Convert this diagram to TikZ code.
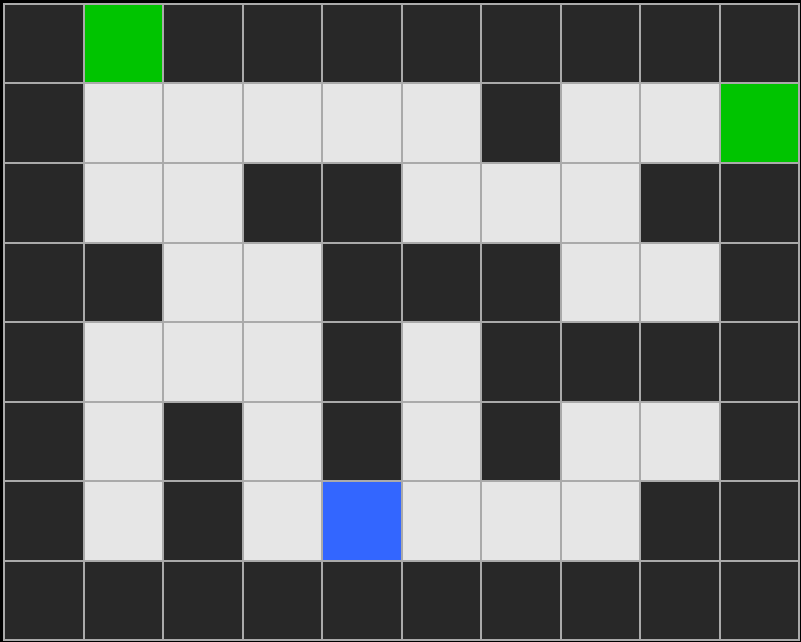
\documentclass[tikz,border=0pt]{standalone}
\definecolor{cD}{HTML}{282828}
\definecolor{cL}{HTML}{E6E6E6}
\definecolor{cG}{HTML}{00C400}
\definecolor{cB}{HTML}{3366FF}
\definecolor{gridc}{HTML}{AAAAAA}
\begin{document}
\begin{tikzpicture}[x=1pt,y=-1pt,
  cell/.style={draw=gridc, line width=2pt, minimum size=79.5pt, inner sep=0pt, outer sep=0pt, rectangle}]
\fill[black] (0,0) rectangle (801,642);
\useasboundingbox (0,0) rectangle (801,642);
\foreach \row [count=\r from 0] in {
  {D,G,D,D,D,D,D,D,D,D},
  {D,L,L,L,L,L,D,L,L,G},
  {D,L,L,D,D,L,L,L,D,D},
  {D,D,L,L,D,D,D,L,L,D},
  {D,L,L,L,D,L,D,D,D,D},
  {D,L,D,L,D,L,D,L,L,D},
  {D,L,D,L,B,L,L,L,D,D},
  {D,D,D,D,D,D,D,D,D,D}} {
  \foreach \t [count=\c from 0] in \row {
    \node[cell, fill=c\t] (cell-\r-\c) at ({43.75+79.5*\c},{43.75+79.5*\r}) {};
  }
}
\end{tikzpicture}
\end{document}
